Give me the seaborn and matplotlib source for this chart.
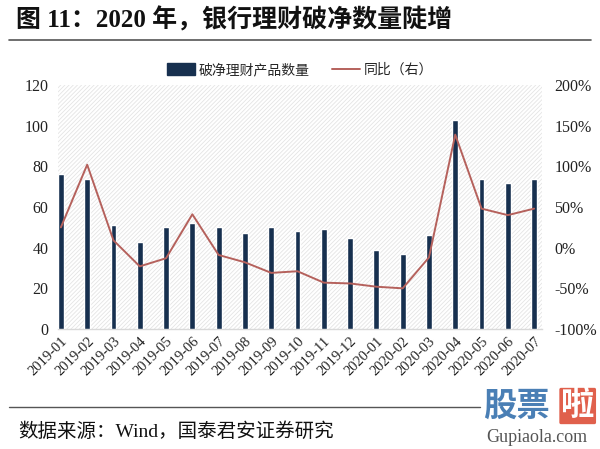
import matplotlib
matplotlib.use("Agg")
import matplotlib.pyplot as plt
import seaborn as sns
import pandas as pd
import numpy as np
from matplotlib.patches import Rectangle, Patch
from matplotlib.lines import Line2D
from matplotlib.ticker import FuncFormatter

sns.set_theme(style="white")
plt.rcParams['font.family'] = ['Liberation Serif', 'Noto Sans CJK SC', 'DejaVu Sans']
plt.rcParams['hatch.linewidth'] = 0.6
plt.rcParams['hatch.color'] = '#e4e4e4'

months = ["2019-01", "2019-02", "2019-03", "2019-04", "2019-05", "2019-06", "2019-07",
          "2019-08", "2019-09", "2019-10", "2019-11", "2019-12", "2020-01", "2020-02",
          "2020-03", "2020-04", "2020-05", "2020-06", "2020-07"]
counts = [76, 74, 51, 43, 50, 52, 50, 47, 50, 48, 49, 45, 39, 37, 46, 103, 74, 72, 74]
yoy = [25, 102, 9, -23, -13, 41, -9, -18, -31, -29, -43, -44, -48, -50, -12, 139, 48, 40, 48]

df = pd.DataFrame({"month": months, "count": counts, "yoy": yoy})
df["x"] = np.arange(len(df))

BAR = '#17304f'
LINE = '#b5615c'

fig = plt.figure(figsize=(6, 4.49), dpi=100)
ax = fig.add_axes([58/600, 1-329/449, (542-58)/600, (329-85)/449])

sns.barplot(data=df, x="month", y="count", color=BAR, width=0.22, ax=ax,
            saturation=1, zorder=3)
ax.set_xlim(-0.11, 18.3)
ax.set_ylim(0, 120)
ax.set_yticks(range(0, 121, 20))
ax.add_patch(Rectangle((0, 0), 1, 1, transform=ax.transAxes, facecolor='white',
                       edgecolor='#e4e4e4', hatch='////////', linewidth=0, zorder=0))
for s in ['top', 'right', 'left']:
    ax.spines[s].set_visible(False)
ax.spines['bottom'].set_color('#d9d9d9')
ax.spines['bottom'].set_linewidth(1)
ax.set_xlabel('')
ax.set_ylabel('')
ax.tick_params(axis='y', length=0, labelsize=11.5, pad=7, colors='#222222')
ax.tick_params(axis='x', length=0, labelsize=10.5, pad=4, colors='#222222')
plt.setp(ax.get_xticklabels(), rotation=45, ha='right', rotation_mode='anchor')

ax2 = ax.twinx()
sns.lineplot(data=df, x="x", y="yoy", color=LINE, linewidth=1.4, ax=ax2, zorder=4)
ax2.set_ylim(-100, 200)
ax2.set_yticks(range(-100, 201, 50))
ax2.yaxis.set_major_formatter(FuncFormatter(lambda v, p: f"{int(v)}%"))
for s in ['top', 'right', 'left', 'bottom']:
    ax2.spines[s].set_visible(False)
ax2.set_ylabel('')
ax2.tick_params(axis='y', length=0, labelsize=11.5, pad=9, colors='#222222')
ax2.grid(False)
ax.grid(False)

handles = [Patch(facecolor=BAR, edgecolor=BAR),
           Line2D([0], [0], color=LINE, linewidth=1.4)]
fig.legend(handles, ["破净理财产品数量", "同比（右）"], loc='center', bbox_to_anchor=(0.5, 1-70/449),
           ncol=2, frameon=False, handlelength=2.0, handleheight=0.9,
           columnspacing=1.6, handletextpad=0.3,
           prop={'family': ['Noto Sans CJK SC'], 'size': 10})

fig.text(0.027, 1-20/449, "图 11：2020 年，银行理财破净数量陡增", fontsize=18, fontweight='bold',
         va='center', ha='left', color='#111111',
         family=['Liberation Serif', 'Noto Sans CJK SC'])
fig.add_artist(Line2D([0.015, 0.985], [1-40/449, 1-40/449], color='#555555', linewidth=1.2))
fig.add_artist(Line2D([0.015, 0.80], [1-407/449, 1-407/449], color='#555555', linewidth=1.0))
fig.text(0.03, 1-432/449, "数据来源：Wind，国泰君安证券研究", fontsize=14, va='center', ha='left',
         color='#111111', family=['Liberation Serif', 'Noto Sans CJK SC'])
fig.text(0.805, 1-406/449, "股票", fontsize=24, fontweight='bold', va='center', ha='left',
         color='#4a7fb5', family=['Noto Sans CJK SC'])
fig.text(0.935, 1-406/449, "啦", fontsize=24, fontweight='bold', va='center', ha='left',
         color='#ffffff', family=['Noto Sans CJK SC'],
         bbox=dict(facecolor='#e0604c', edgecolor='none', boxstyle='round,pad=0.05'))
fig.text(0.81, 1-438/449, "Gupiaola.com", fontsize=13, va='center', ha='left',
         color='#555555', family=['Liberation Serif'])

fig.savefig("out.png", dpi=100)
